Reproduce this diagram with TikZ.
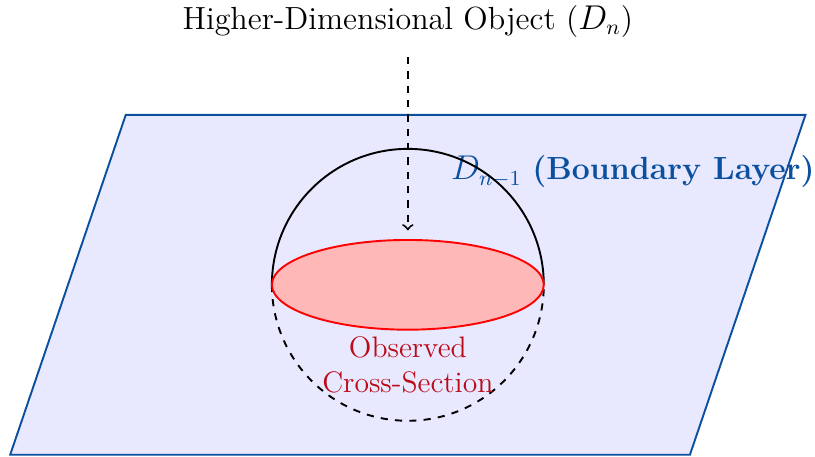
\documentclass[tikz,border=0pt]{standalone}
\usepackage{amsmath}
\usepackage{amssymb}
\usepackage[dvipsnames]{xcolor}
\definecolor{planeblue}{RGB}{10,80,158}
\definecolor{crossred}{RGB}{188,10,25}
\tikzset{labelfont/.style={font=\fontsize{13.4}{16}\selectfont},
  notefont/.style={font=\fontsize{12.4}{14.5}\selectfont}}

\begin{document}
\begin{tikzpicture}
\useasboundingbox (-6,-2.53) rectangle (5.99,4.19);
  \coordinate (p1) at (-5.85,-2.5);
  \coordinate (p2) at (4.15,-2.5);
  \coordinate (p3) at (5.85,2.5);
  \coordinate (p4) at (-4.15,2.5);
  \fill [blue!9] (p1) -- (p2) -- (p3) -- (p4) -- cycle;
  \node [planeblue, labelfont] (layer) at (3.31,1.66) {$D_{n-1}$ \textbf{(Boundary Layer)}};
  \draw [planeblue, thick] (p1) -- (p2) -- (p3) -- (p4) -- cycle;
 \begin{scope}[thick]
  \draw (2,0) arc (0:180:2);
  \draw [dashed] (-2,0) arc (180:360:2);
  \draw [red, fill=red!28] (0,0) ellipse (2 and 0.66);
 \end{scope}
  \node [labelfont] (object) at (0,3.87) {Higher-Dimensional Object ($D_n$)};
  \node [crossred, notefont, align=center] (section) at (0,-1.18) {Observed\\Cross-Section};
  \coordinate (arrowtop) at (0,3.35);
  \coordinate (arrowtip) at (0,0.8);
  \path [->, dashed, thick] (arrowtop) edge node {} (arrowtip);
 \end{tikzpicture}
\end{document}
